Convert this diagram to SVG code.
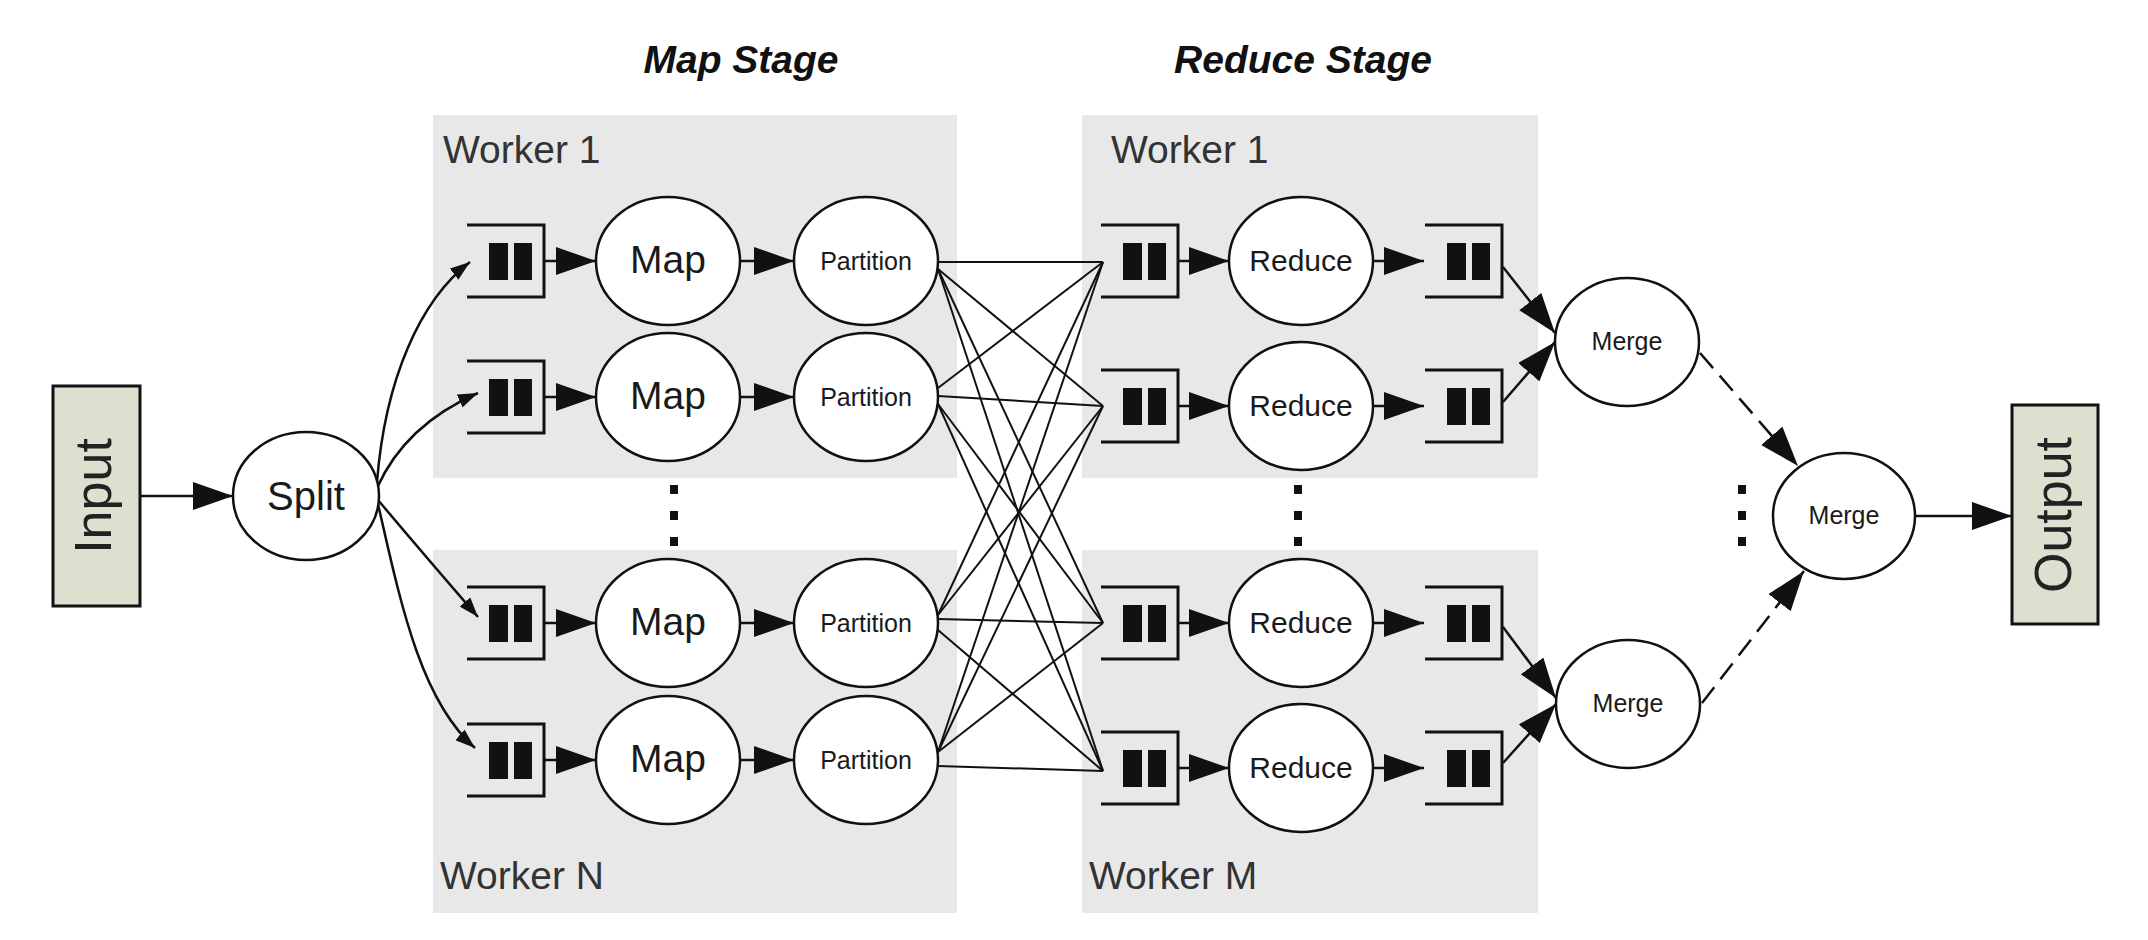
<svg xmlns="http://www.w3.org/2000/svg" xmlns:xlink="http://www.w3.org/1999/xlink" width="2148" height="940" viewBox="0 0 2148 940">
<style>
text{font-family:"Liberation Sans",Arial,sans-serif;}
.title{font-size:39px;font-weight:bold;font-style:italic;fill:#111;text-anchor:middle;}
.worker{font-size:39px;fill:#333;}
.box{fill:#e8e8e8;}
.io{fill:#dedfcf;stroke:#111;stroke-width:3;}
.iotext{font-size:52px;fill:#222;text-anchor:middle;}
.node{fill:#fff;stroke:#111;stroke-width:2.5;}
.lbl{fill:#1a1a1a;text-anchor:middle;}
.map{font-size:39px;}
.part{font-size:25px;}
.red{font-size:30px;}
.merge{font-size:25px;}
.split{font-size:40px;}
.arr{stroke:#111;stroke-width:2.5;fill:none;marker-end:url(#big);}
.sarr{stroke:#111;stroke-width:2.5;fill:none;marker-end:url(#small);}
.dash{stroke:#111;stroke-width:2.5;fill:none;stroke-dasharray:20 10;marker-end:url(#big);}
.cross{stroke:#111;stroke-width:2;fill:none;}
.dot{fill:#111;}
</style>
<defs>
<marker id="big" markerUnits="userSpaceOnUse" markerWidth="40" markerHeight="28" refX="40" refY="14" orient="auto" viewBox="0 0 40 28">
<path d="M0,0 L40,14 L0,28 z" fill="#111"/>
</marker>
<marker id="small" markerUnits="userSpaceOnUse" markerWidth="20" markerHeight="14" refX="20" refY="7" orient="auto" viewBox="0 0 20 14">
<path d="M0,0 L20,7 L0,14 z" fill="#111"/>
</marker>
<g id="q">
<path d="M0,-36 H77 V36 H0" fill="none" stroke="#111" stroke-width="3"/>
<rect x="22" y="-18" width="19" height="37" fill="#111"/>
<rect x="47" y="-18" width="18" height="37" fill="#111"/>
</g>
</defs>
<rect width="2148" height="940" fill="#fff"/>

<text class="title" x="741" y="73">Map Stage</text>
<text class="title" x="1303" y="73">Reduce Stage</text>

<g id="map-worker-1"><rect class="box" x="433" y="115" width="524" height="363"/><text class="worker" x="443" y="163">Worker 1</text></g>
<g id="map-worker-n"><rect class="box" x="433" y="550" width="524" height="363"/><text class="worker" x="440" y="889">Worker N</text></g>
<g id="reduce-worker-1"><rect class="box" x="1082" y="115" width="456" height="363"/><text class="worker" x="1111" y="163">Worker 1</text></g>
<g id="reduce-worker-m"><rect class="box" x="1082" y="550" width="456" height="363"/><text class="worker" x="1089" y="889">Worker M</text></g>

<g id="connectors">
<line class="arr" x1="140" y1="496" x2="233" y2="496"/>
<path class="sarr" d="M377,482 C385,380 420,300 470,262"/>
<path class="sarr" d="M377,488 Q405,425 478,393"/>
<path class="sarr" d="M378,500 Q420,550 478,617"/>
<path class="sarr" d="M378,504 C400,600 420,700 475,748"/>
<line class="arr" x1="544" y1="261" x2="596" y2="261"/>
<line class="arr" x1="544" y1="397" x2="596" y2="397"/>
<line class="arr" x1="544" y1="623" x2="596" y2="623"/>
<line class="arr" x1="544" y1="760" x2="596" y2="760"/>
<line class="arr" x1="740" y1="261" x2="794" y2="261"/>
<line class="arr" x1="740" y1="397" x2="794" y2="397"/>
<line class="arr" x1="740" y1="623" x2="794" y2="623"/>
<line class="arr" x1="740" y1="760" x2="794" y2="760"/>
<g id="shuffle">
<line class="cross" x1="938" y1="262" x2="1103" y2="262"/>
<line class="cross" x1="938" y1="269" x2="1103" y2="406"/>
<line class="cross" x1="938" y1="269" x2="1103" y2="623"/>
<line class="cross" x1="938" y1="269" x2="1103" y2="771"/>
<line class="cross" x1="938" y1="388" x2="1103" y2="262"/>
<line class="cross" x1="938" y1="396" x2="1103" y2="406"/>
<line class="cross" x1="938" y1="404" x2="1103" y2="623"/>
<line class="cross" x1="938" y1="404" x2="1103" y2="771"/>
<line class="cross" x1="938" y1="615" x2="1103" y2="262"/>
<line class="cross" x1="938" y1="615" x2="1103" y2="406"/>
<line class="cross" x1="938" y1="619" x2="1103" y2="623"/>
<line class="cross" x1="938" y1="630" x2="1103" y2="771"/>
<line class="cross" x1="938" y1="752" x2="1103" y2="262"/>
<line class="cross" x1="938" y1="752" x2="1103" y2="406"/>
<line class="cross" x1="938" y1="752" x2="1103" y2="623"/>
<line class="cross" x1="938" y1="766" x2="1103" y2="771"/>
</g>
<line class="arr" x1="1178" y1="261" x2="1229" y2="261"/>
<line class="arr" x1="1178" y1="406" x2="1229" y2="406"/>
<line class="arr" x1="1178" y1="623" x2="1229" y2="623"/>
<line class="arr" x1="1178" y1="768" x2="1229" y2="768"/>
<line class="arr" x1="1373" y1="261" x2="1424" y2="261"/>
<line class="arr" x1="1373" y1="406" x2="1424" y2="406"/>
<line class="arr" x1="1373" y1="623" x2="1424" y2="623"/>
<line class="arr" x1="1373" y1="768" x2="1424" y2="768"/>
<line class="arr" x1="1503" y1="267" x2="1555" y2="333"/>
<line class="arr" x1="1503" y1="402" x2="1555" y2="342"/>
<line class="arr" x1="1503" y1="627" x2="1556" y2="698"/>
<line class="arr" x1="1503" y1="763" x2="1556" y2="704"/>
<line class="dash" x1="1700" y1="353" x2="1798" y2="466"/>
<line class="dash" x1="1702" y1="703" x2="1804" y2="571"/>
<line class="arr" x1="1915" y1="516" x2="2012" y2="516"/>
</g>

<g id="input"><rect class="io" x="53" y="386" width="87" height="220"/><text class="iotext" transform="translate(111,496) rotate(-90)">Input</text></g>
<g id="output"><rect class="io" x="2012" y="405" width="86" height="219"/><text class="iotext" transform="translate(2071,515) rotate(-90)">Output</text></g>

<g id="split"><ellipse class="node" cx="306" cy="496" rx="73" ry="64"/><text class="lbl split" x="306" y="510">Split</text></g>

<g id="map-queue-1"><use xlink:href="#q" x="467" y="261"/></g>
<g id="map-queue-2"><use xlink:href="#q" x="467" y="397"/></g>
<g id="map-queue-3"><use xlink:href="#q" x="467" y="623"/></g>
<g id="map-queue-4"><use xlink:href="#q" x="467" y="760"/></g>

<g id="map-1"><ellipse class="node" cx="668" cy="261" rx="72" ry="64"/><text class="lbl map" x="668" y="273">Map</text></g>
<g id="map-2"><ellipse class="node" cx="668" cy="397" rx="72" ry="64"/><text class="lbl map" x="668" y="409">Map</text></g>
<g id="map-3"><ellipse class="node" cx="668" cy="623" rx="72" ry="64"/><text class="lbl map" x="668" y="635">Map</text></g>
<g id="map-4"><ellipse class="node" cx="668" cy="760" rx="72" ry="64"/><text class="lbl map" x="668" y="772">Map</text></g>

<g id="partition-1"><ellipse class="node" cx="866" cy="261" rx="72" ry="64"/><text class="lbl part" x="866" y="270">Partition</text></g>
<g id="partition-2"><ellipse class="node" cx="866" cy="397" rx="72" ry="64"/><text class="lbl part" x="866" y="406">Partition</text></g>
<g id="partition-3"><ellipse class="node" cx="866" cy="623" rx="72" ry="64"/><text class="lbl part" x="866" y="632">Partition</text></g>
<g id="partition-4"><ellipse class="node" cx="866" cy="760" rx="72" ry="64"/><text class="lbl part" x="866" y="769">Partition</text></g>

<g id="reduce-in-queue-1"><use xlink:href="#q" x="1101" y="261"/></g>
<g id="reduce-in-queue-2"><use xlink:href="#q" x="1101" y="406"/></g>
<g id="reduce-in-queue-3"><use xlink:href="#q" x="1101" y="623"/></g>
<g id="reduce-in-queue-4"><use xlink:href="#q" x="1101" y="768"/></g>

<g id="reduce-1"><ellipse class="node" cx="1301" cy="261" rx="72" ry="64"/><text class="lbl red" x="1301" y="271">Reduce</text></g>
<g id="reduce-2"><ellipse class="node" cx="1301" cy="406" rx="72" ry="64"/><text class="lbl red" x="1301" y="416">Reduce</text></g>
<g id="reduce-3"><ellipse class="node" cx="1301" cy="623" rx="72" ry="64"/><text class="lbl red" x="1301" y="633">Reduce</text></g>
<g id="reduce-4"><ellipse class="node" cx="1301" cy="768" rx="72" ry="64"/><text class="lbl red" x="1301" y="778">Reduce</text></g>

<g id="reduce-out-queue-1"><use xlink:href="#q" x="1425" y="261"/></g>
<g id="reduce-out-queue-2"><use xlink:href="#q" x="1425" y="406"/></g>
<g id="reduce-out-queue-3"><use xlink:href="#q" x="1425" y="623"/></g>
<g id="reduce-out-queue-4"><use xlink:href="#q" x="1425" y="768"/></g>

<g id="merge-1"><ellipse class="node" cx="1627" cy="342" rx="72" ry="64"/><text class="lbl merge" x="1627" y="350">Merge</text></g>
<g id="merge-2"><ellipse class="node" cx="1628" cy="704" rx="72" ry="64"/><text class="lbl merge" x="1628" y="712">Merge</text></g>
<g id="merge-final"><ellipse class="node" cx="1844" cy="516" rx="71" ry="63"/><text class="lbl merge" x="1844" y="524">Merge</text></g>

<g id="ellipsis">
<rect class="dot" x="670" y="485" width="8" height="9"/><rect class="dot" x="670" y="511" width="8" height="9"/><rect class="dot" x="670" y="537" width="8" height="9"/>
<rect class="dot" x="1294" y="485" width="8" height="9"/><rect class="dot" x="1294" y="511" width="8" height="9"/><rect class="dot" x="1294" y="537" width="8" height="9"/>
<rect class="dot" x="1738" y="485" width="8" height="9"/><rect class="dot" x="1738" y="511" width="8" height="9"/><rect class="dot" x="1738" y="537" width="8" height="9"/>
</g>
</svg>
